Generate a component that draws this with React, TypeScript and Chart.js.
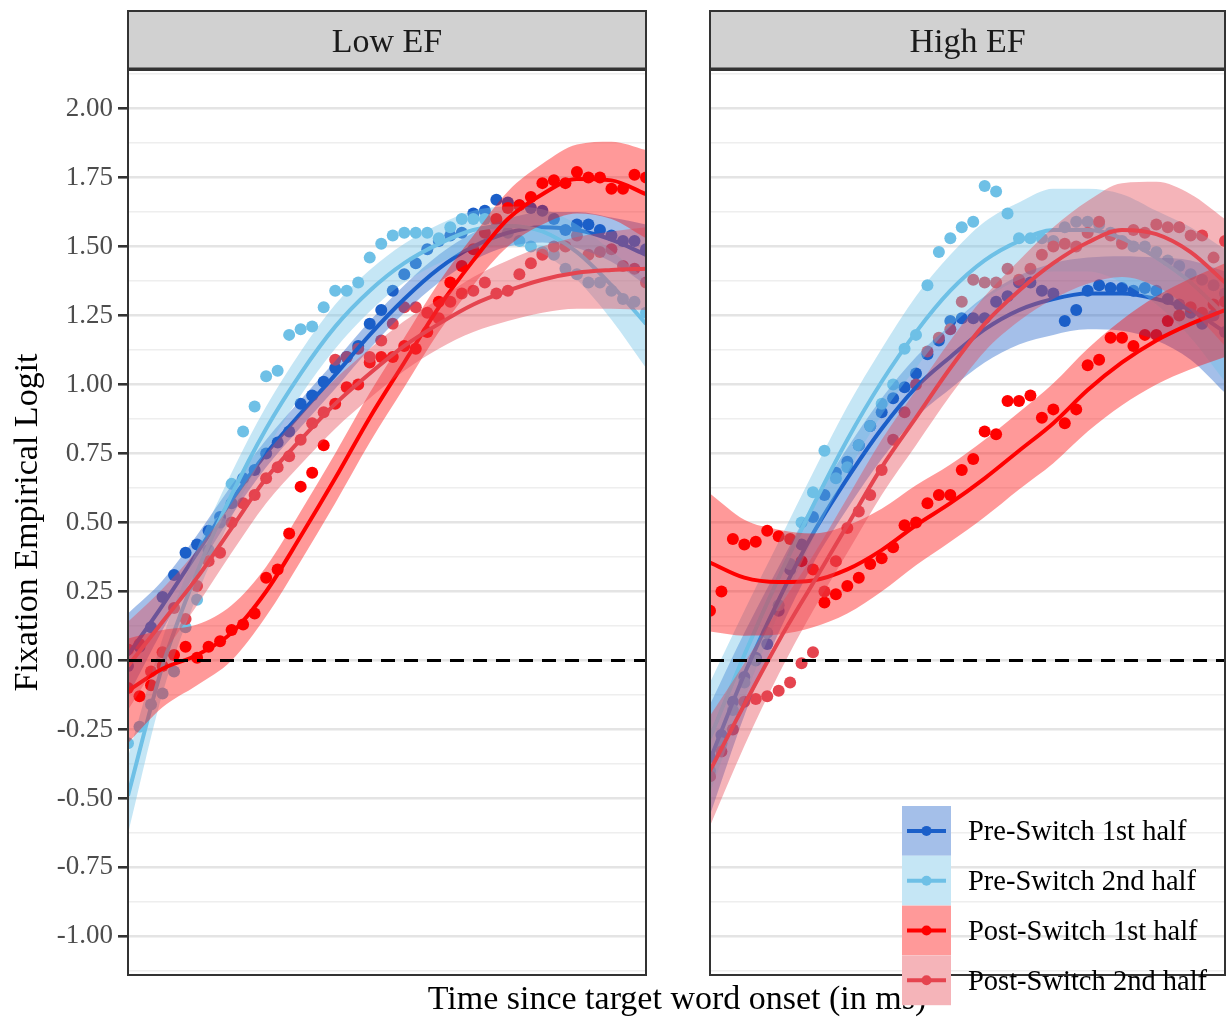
import React, { useEffect, useRef } from "react";
import { Chart, registerables } from "chart.js";

Chart.register(...registerables);

const W = 1231;
const H = 1017;
const FONT = '"Liberation Serif", "Times New Roman", Times, serif';

// ---------- categories / ticks ----------
const TIME_MS = [0, 20, 40, 60, 80, 100, 120, 140, 160, 180, 200, 220, 240, 260, 280, 300, 320, 340, 360, 380, 400, 420, 440, 460, 480, 500, 520, 540, 560, 580, 600, 620, 640, 660, 680, 700, 720, 740, 760, 780, 800, 820, 840, 860, 880, 900];
const FIT_MS = [0, 60, 120, 180, 240, 300, 360, 420, 480, 540, 600, 660, 720, 780, 840, 900];

const Y_MAJOR = [-1, -0.75, -0.5, -0.25, 0, 0.25, 0.5, 0.75, 1, 1.25, 1.5, 1.75, 2];
const Y_LABELS = ["-1.00", "-0.75", "-0.50", "-0.25", "0.00", "0.25", "0.50", "0.75", "1.00", "1.25", "1.50", "1.75", "2.00"];
const Y_MINOR = [-1.125, -0.875, -0.625, -0.375, -0.125, 0.125, 0.375, 0.625, 0.875, 1.125, 1.375, 1.625, 1.875, 2.125];

const SERIES_NAMES = ["Pre-Switch 1st half", "Pre-Switch 2nd half", "Post-Switch 1st half", "Post-Switch 2nd half"];
const SERIES_COLORS = ["#1b5fc9", "#6ec0e6", "#ff0000", "#e5444f"];
const PANEL_TITLES = ["Low EF", "High EF"];
const Y_AXIS_TITLE = "Fixation Empirical Logit";
const X_AXIS_TITLE = "Time since target word onset (in ms)";

// ---------- Low EF: observed points ----------
const LOW_PRE1 = [-0.02, 0.05, 0.12, 0.23, 0.31, 0.39, 0.42, 0.47, 0.52, 0.57, 0.66, 0.69, 0.75, 0.79, 0.83, 0.93, 0.96, 1.01, 1.06, 1.10, 1.14, 1.22, 1.27, 1.34, 1.40, 1.44, 1.49, 1.52, 1.54, 1.55, 1.62, 1.63, 1.67, 1.66, 1.65, 1.64, 1.63, 1.60, 1.56, 1.58, 1.58, 1.56, 1.54, 1.52, 1.52, 1.49];
const LOW_PRE2 = [-0.30, -0.24, -0.16, -0.12, -0.04, 0.12, 0.22, 0.40, 0.50, 0.64, 0.83, 0.92, 1.03, 1.05, 1.18, 1.20, 1.21, 1.28, 1.34, 1.34, 1.37, 1.46, 1.51, 1.54, 1.55, 1.55, 1.55, 1.53, 1.57, 1.60, 1.60, 1.60, 1.59, 1.55, 1.52, 1.50, 1.48, 1.47, 1.42, 1.40, 1.37, 1.37, 1.34, 1.31, 1.30, 1.26];
const LOW_POST1 = [-0.10, -0.13, -0.09, -0.02, 0.02, 0.05, 0.01, 0.05, 0.07, 0.11, 0.13, 0.17, 0.30, 0.33, 0.46, 0.63, 0.68, 0.78, 0.93, 0.99, 1.00, 1.08, 1.10, 1.10, 1.14, 1.13, 1.19, 1.30, 1.37, 1.43, 1.49, 1.55, 1.60, 1.64, 1.65, 1.68, 1.73, 1.74, 1.73, 1.77, 1.75, 1.75, 1.71, 1.71, 1.76, 1.75];
const LOW_POST2 = [0.04, 0.06, -0.04, 0.03, 0.19, 0.15, 0.27, 0.36, 0.39, 0.50, 0.57, 0.60, 0.66, 0.70, 0.74, 0.80, 0.86, 0.90, 1.09, 1.10, 1.13, 1.10, 1.16, 1.22, 1.28, 1.28, 1.26, 1.24, 1.30, 1.33, 1.34, 1.37, 1.33, 1.34, 1.40, 1.44, 1.47, 1.50, 1.50, 1.54, 1.47, 1.48, 1.49, 1.43, 1.42, 1.37];

// ---------- High EF: observed points ----------
const HIGH_PRE1 = [-0.35, -0.27, -0.15, -0.06, 0.01, 0.06, 0.18, 0.33, 0.42, 0.52, 0.60, 0.68, 0.72, 0.78, 0.85, 0.90, 0.95, 0.99, 1.04, 1.11, 1.16, 1.23, 1.24, 1.24, 1.24, 1.30, 1.32, 1.37, 1.37, 1.34, 1.33, 1.23, 1.27, 1.34, 1.36, 1.35, 1.35, 1.34, 1.35, 1.34, 1.31, 1.29, 1.26, 1.22, 1.25, 1.19];
const HIGH_PRE2 = [-0.40, -0.30, -0.18, -0.08, 0.00, 0.10, 0.20, 0.35, 0.50, 0.61, 0.76, 0.66, 0.70, 0.78, 0.85, 0.93, 1.00, 1.13, 1.18, 1.36, 1.48, 1.53, 1.57, 1.59, 1.72, 1.70, 1.62, 1.53, 1.53, 1.53, 1.52, 1.57, 1.59, 1.59, 1.58, 1.55, 1.52, 1.50, 1.50, 1.48, 1.45, 1.43, 1.40, 1.38, 1.36, 1.33];
const HIGH_POST1 = [0.18, 0.25, 0.44, 0.42, 0.43, 0.47, 0.45, 0.44, 0.36, 0.33, 0.21, 0.24, 0.27, 0.30, 0.35, 0.37, 0.41, 0.49, 0.50, 0.57, 0.60, 0.60, 0.69, 0.73, 0.83, 0.82, 0.94, 0.94, 0.96, 0.88, 0.91, 0.86, 0.91, 1.07, 1.09, 1.17, 1.17, 1.14, 1.18, 1.18, 1.23, 1.25, 1.28, 1.26, 1.29, 1.30];
const HIGH_POST2 = [-0.42, -0.33, -0.25, -0.15, -0.14, -0.13, -0.11, -0.08, -0.01, 0.03, 0.25, 0.36, 0.48, 0.54, 0.60, 0.69, 0.80, 0.90, 1.00, 1.12, 1.17, 1.20, 1.30, 1.38, 1.37, 1.37, 1.42, 1.38, 1.42, 1.47, 1.50, 1.51, 1.50, 1.55, 1.59, 1.54, 1.51, 1.56, 1.55, 1.58, 1.57, 1.57, 1.54, 1.54, 1.46, 1.52];

// ---------- model fits (at FIT_MS) ----------
const LOW_PRE1_FIT = [0.02, 0.20, 0.39, 0.58, 0.75, 0.895, 1.035, 1.18, 1.31, 1.42, 1.50, 1.55, 1.57, 1.56, 1.525, 1.47];
const LOW_PRE2_FIT = [-0.49, -0.02, 0.32, 0.60, 0.84, 1.04, 1.21, 1.34, 1.44, 1.51, 1.56, 1.575, 1.555, 1.48, 1.36, 1.22];
const LOW_POST1_FIT = [-0.11, -0.03, 0.02, 0.10, 0.25, 0.45, 0.66, 0.88, 1.08, 1.28, 1.45, 1.60, 1.69, 1.745, 1.74, 1.69];
const LOW_POST2_FIT = [-0.02, 0.14, 0.30, 0.48, 0.66, 0.80, 0.93, 1.04, 1.14, 1.22, 1.29, 1.34, 1.38, 1.405, 1.415, 1.42];
const HIGH_PRE1_FIT = [-0.36, -0.05, 0.22, 0.46, 0.66, 0.84, 0.99, 1.10, 1.20, 1.27, 1.31, 1.33, 1.33, 1.31, 1.27, 1.19];
const HIGH_PRE2_FIT = [-0.28, 0.02, 0.30, 0.56, 0.80, 1.01, 1.19, 1.34, 1.45, 1.52, 1.56, 1.56, 1.53, 1.46, 1.37, 1.25];
const HIGH_POST1_FIT = [0.355, 0.30, 0.284, 0.29, 0.33, 0.40, 0.49, 0.57, 0.66, 0.76, 0.86, 0.98, 1.08, 1.16, 1.22, 1.27];
const HIGH_POST2_FIT = [-0.40, -0.16, 0.07, 0.28, 0.49, 0.70, 0.88, 1.06, 1.22, 1.34, 1.44, 1.515, 1.56, 1.545, 1.48, 1.37];

// ---------- ribbon half-widths (at FIT_MS) ----------
const LOW_PRE1_SE = [0.15, 0.09, 0.065, 0.055, 0.05, 0.05, 0.05, 0.05, 0.05, 0.05, 0.05, 0.05, 0.055, 0.065, 0.08, 0.11];
const LOW_PRE2_SE = [0.14, 0.10, 0.085, 0.08, 0.08, 0.08, 0.08, 0.075, 0.07, 0.07, 0.07, 0.07, 0.08, 0.10, 0.125, 0.16];
const LOW_POST1_SE = [0.19, 0.14, 0.11, 0.10, 0.09, 0.09, 0.09, 0.09, 0.09, 0.09, 0.09, 0.10, 0.11, 0.125, 0.14, 0.16];
const LOW_POST2_SE = [0.16, 0.12, 0.10, 0.09, 0.09, 0.09, 0.09, 0.09, 0.09, 0.09, 0.10, 0.11, 0.12, 0.13, 0.14, 0.15];
const HIGH_PRE1_SE = [0.20, 0.15, 0.12, 0.11, 0.11, 0.11, 0.11, 0.115, 0.12, 0.125, 0.13, 0.13, 0.135, 0.15, 0.18, 0.22];
const HIGH_PRE2_SE = [0.20, 0.16, 0.13, 0.12, 0.12, 0.12, 0.13, 0.13, 0.14, 0.14, 0.15, 0.15, 0.16, 0.17, 0.20, 0.24];
const HIGH_POST1_SE = [0.25, 0.21, 0.19, 0.17, 0.16, 0.15, 0.145, 0.14, 0.14, 0.14, 0.145, 0.15, 0.155, 0.16, 0.165, 0.17];
const HIGH_POST2_SE = [0.20, 0.15, 0.12, 0.10, 0.10, 0.10, 0.10, 0.10, 0.10, 0.11, 0.13, 0.15, 0.17, 0.19, 0.21, 0.23];

const PANEL_POINTS = [
  [LOW_PRE1, LOW_PRE2, LOW_POST1, LOW_POST2],
  [HIGH_PRE1, HIGH_PRE2, HIGH_POST1, HIGH_POST2],
];
const PANEL_FITS = [
  [LOW_PRE1_FIT, LOW_PRE2_FIT, LOW_POST1_FIT, LOW_POST2_FIT],
  [HIGH_PRE1_FIT, HIGH_PRE2_FIT, HIGH_POST1_FIT, HIGH_POST2_FIT],
];
const PANEL_SES = [
  [LOW_PRE1_SE, LOW_PRE2_SE, LOW_POST1_SE, LOW_POST2_SE],
  [HIGH_PRE1_SE, HIGH_PRE2_SE, HIGH_POST1_SE, HIGH_POST2_SE],
];

// ---------- layout ----------
const PANEL_LEFT = [128, 710];
const PANEL_RIGHT = [646, 1228];
const PANEL_TOP = 70;
const PANEL_BOTTOM = 975;
const STRIP_TOP = 11;
const Y_MIN = -1.14;
const Y_MAX = 2.14;

function rgba(hex: string, a: number) {
  const n = parseInt(hex.slice(1), 16);
  return `rgba(${(n >> 16) & 255},${(n >> 8) & 255},${n & 255},${a})`;
}
const isMajor = (v: number) => Y_MAJOR.some((m) => Math.abs(m - v) < 1e-6);

function buildDatasets(panel: number) {
  const ds: any[] = [];
  // zero reference line (on top)
  ds.push({
    data: [{ x: TIME_MS[0], y: 0 }, { x: TIME_MS[TIME_MS.length - 1], y: 0 }],
    borderColor: "#000000",
    borderWidth: 3,
    borderDash: [14, 9],
    pointRadius: 0,
    fill: false,
    clip: 0,
    order: 0,
  });
  for (let g = 0; g < 4; g++) {
    const fit = PANEL_FITS[panel][g];
    const se = PANEL_SES[panel][g];
    const color = SERIES_COLORS[g];
    const ribbonOrder = 2 * (4 - g);
    const lineOrder = ribbonOrder - 1;
    ds.push({
      data: fit.map((v, k) => ({ x: FIT_MS[k], y: v + se[k] })),
      borderWidth: 0,
      pointRadius: 0,
      backgroundColor: rgba(color, 0.4),
      fill: "+1",
      cubicInterpolationMode: "monotone",
      clip: 0,
      order: ribbonOrder,
    });
    ds.push({
      data: fit.map((v, k) => ({ x: FIT_MS[k], y: v - se[k] })),
      borderWidth: 0,
      pointRadius: 0,
      fill: false,
      cubicInterpolationMode: "monotone",
      clip: 0,
      order: ribbonOrder,
    });
    ds.push({
      data: fit.map((v, k) => ({ x: FIT_MS[k], y: v })),
      borderColor: color,
      borderWidth: 4,
      pointRadius: 0,
      fill: false,
      cubicInterpolationMode: "monotone",
      clip: 0,
      order: lineOrder,
    });
  }
  for (let g = 0; g < 4; g++) {
    const pts = PANEL_POINTS[panel][g];
    ds.push({
      data: pts.map((v, k) => ({ x: TIME_MS[k], y: v })),
      showLine: false,
      pointRadius: 6,
      pointHoverRadius: 6,
      pointBorderWidth: 0,
      pointBackgroundColor: SERIES_COLORS[g],
      borderColor: SERIES_COLORS[g],
      fill: false,
      clip: 0,
      order: 12 - g,
    });
  }
  return ds;
}

function decorPlugin(panel: number) {
  return {
    id: "decor" + panel,
    afterDraw(chart: any) {
      const ctx = chart.ctx as CanvasRenderingContext2D;
      const a = chart.chartArea;
      ctx.save();
      // panel border
      ctx.strokeStyle = "#333333";
      ctx.lineWidth = 2;
      ctx.strokeRect(a.left, a.top, a.right - a.left, a.bottom - a.top);
      // strip
      ctx.fillStyle = "#d1d1d1";
      ctx.fillRect(a.left, STRIP_TOP, a.right - a.left, a.top - STRIP_TOP);
      ctx.strokeRect(a.left, STRIP_TOP, a.right - a.left, a.top - STRIP_TOP);
      ctx.lineWidth = 3;
      ctx.beginPath();
      ctx.moveTo(a.left - 1, a.top - 1);
      ctx.lineTo(a.right + 1, a.top - 1);
      ctx.stroke();
      ctx.fillStyle = "#1a1a1a";
      ctx.font = `34px ${FONT}`;
      ctx.textAlign = "center";
      ctx.textBaseline = "alphabetic";
      ctx.fillText(PANEL_TITLES[panel], (a.left + a.right) / 2, 52);

      if (panel === 0) {
        ctx.fillStyle = "#000000";
        ctx.save();
        ctx.translate(37, (a.top + a.bottom) / 2);
        ctx.rotate(-Math.PI / 2);
        ctx.fillText(Y_AXIS_TITLE, 0, 0);
        ctx.restore();
        ctx.fillText(X_AXIS_TITLE, 677, 1009);
      } else {
        const keyL = 902;
        const keyR = 951;
        const keyTop = 806;
        const keyH = 49.8;
        for (let g = 0; g < 4; g++) {
          const y0 = keyTop + g * keyH;
          const cy = y0 + keyH / 2;
          ctx.fillStyle = "#ffffff";
          ctx.fillRect(keyL, y0, keyR - keyL, keyH);
          ctx.fillStyle = rgba(SERIES_COLORS[g], 0.4);
          ctx.fillRect(keyL, y0, keyR - keyL, keyH);
          ctx.strokeStyle = SERIES_COLORS[g];
          ctx.lineWidth = 4;
          ctx.beginPath();
          ctx.moveTo(keyL + 5, cy);
          ctx.lineTo(keyR - 5, cy);
          ctx.stroke();
          ctx.fillStyle = SERIES_COLORS[g];
          ctx.beginPath();
          ctx.arc((keyL + keyR) / 2, cy, 5, 0, Math.PI * 2);
          ctx.fill();
          ctx.fillStyle = "#000000";
          ctx.font = `28.5px ${FONT}`;
          ctx.textAlign = "left";
          ctx.textBaseline = "alphabetic";
          ctx.fillText(SERIES_NAMES[g], 968, cy + 9.5);
        }
      }
      ctx.restore();
    },
  };
}

function buildConfig(panel: number): any {
  return {
    type: "line",
    data: { datasets: buildDatasets(panel) },
    options: {
      animation: false,
      responsive: false,
      devicePixelRatio: 1,
      events: [],
      layout: {
        padding: {
          left: panel === 0 ? 0 : PANEL_LEFT[1],
          right: W - PANEL_RIGHT[panel],
          top: PANEL_TOP,
          bottom: H - PANEL_BOTTOM,
        },
      },
      plugins: {
        legend: { display: false },
        tooltip: { enabled: false },
        title: { display: false },
      },
      scales: {
        x: { type: "linear", min: TIME_MS[0], max: TIME_MS[TIME_MS.length - 1], display: false },
        y: {
          type: "linear",
          position: "left",
          min: Y_MIN,
          max: Y_MAX,
          afterFit: (s: any) => {
            s.width = panel === 0 ? PANEL_LEFT[0] : 0;
          },
          afterBuildTicks: (s: any) => {
            s.ticks = [...Y_MINOR, ...Y_MAJOR].sort((p, q) => p - q).map((v) => ({ value: v }));
          },
          ticks: {
            display: panel === 0,
            autoSkip: false,
            padding: 5,
            color: "#4d4d4d",
            font: { family: FONT, size: 27 },
            callback: (v: number) => {
              const i = Y_MAJOR.findIndex((m) => Math.abs(m - v) < 1e-6);
              return i >= 0 ? Y_LABELS[i] : "";
            },
          },
          grid: {
            drawTicks: panel === 0,
            tickLength: 10,
            color: (c: any) => (c.tick && isMajor(c.tick.value) ? "#e4e4e4" : "#eeeeee"),
            lineWidth: (c: any) => (c.tick && isMajor(c.tick.value) ? 2.6 : 1.5),
            tickColor: (c: any) => (c.tick && isMajor(c.tick.value) ? "#333333" : "rgba(0,0,0,0)"),
            tickWidth: (c: any) => (c.tick && isMajor(c.tick.value) ? 2.6 : 0.01),
          },
          border: { display: false },
        },
      },
    },
    plugins: [decorPlugin(panel)],
  };
}

export default function App() {
  const ref1 = useRef<HTMLCanvasElement>(null);
  const ref2 = useRef<HTMLCanvasElement>(null);
  useEffect(() => {
    const c1 = new Chart(ref1.current as HTMLCanvasElement, buildConfig(0));
    const c2 = new Chart(ref2.current as HTMLCanvasElement, buildConfig(1));
    return () => {
      c1.destroy();
      c2.destroy();
    };
  }, []);
  const cs: React.CSSProperties = { position: "absolute", left: 0, top: 0, width: W, height: H };
  return (
    <div style={{ position: "absolute", left: 0, top: 0, width: W, height: H, background: "#ffffff", overflow: "hidden" }}>
      <canvas ref={ref1} width={W} height={H} style={cs} />
      <canvas ref={ref2} width={W} height={H} style={cs} />
    </div>
  );
}
